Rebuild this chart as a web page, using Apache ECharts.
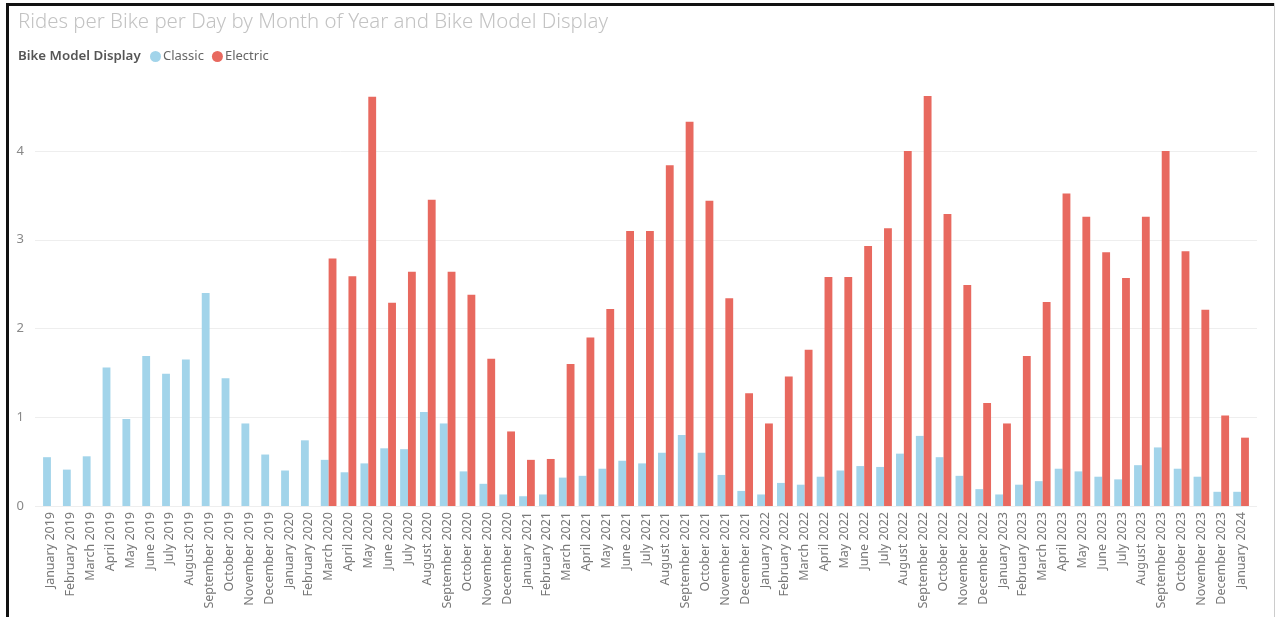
<!DOCTYPE html>
<html>
<head>
<meta charset="utf-8">
<script src="https://cdn.jsdelivr.net/npm/echarts@6/dist/echarts.min.js"></script>
<style>
html,body{margin:0;padding:0;background:#fff;}
#chart{width:1276px;height:617px;}
</style>
</head>
<body>
<div id="chart"></div>
<script>
const months = ["January","February","March","April","May","June","July","August","September","October","November","December"];
const categories = [];
for (let y = 2019; y <= 2024; y++) {
  for (let m = 0; m < 12; m++) {
    if (y === 2024 && m > 0) break;
    categories.push(months[m] + " " + y);
  }
}
const classic = [
  0.55, 0.41, 0.56, 1.56, 0.98, 1.69, 1.49, 1.65, 2.40, 1.44, 0.93, 0.58,
  0.40, 0.74, 0.52, 0.38, 0.48, 0.65, 0.64, 1.06, 0.93, 0.39, 0.25, 0.13,
  0.11, 0.13, 0.32, 0.34, 0.42, 0.51, 0.48, 0.60, 0.80, 0.60, 0.35, 0.17,
  0.13, 0.26, 0.24, 0.33, 0.40, 0.45, 0.44, 0.59, 0.79, 0.55, 0.34, 0.19,
  0.13, 0.24, 0.28, 0.42, 0.39, 0.33, 0.30, 0.46, 0.66, 0.42, 0.33, 0.16,
  0.16
];
const electric = [
  null, null, null, null, null, null, null, null, null, null, null, null,
  null, null, 2.79, 2.59, 4.61, 2.29, 2.64, 3.45, 2.64, 2.38, 1.66, 0.84,
  0.52, 0.53, 1.60, 1.90, 2.22, 3.10, 3.10, 3.84, 4.33, 3.44, 2.34, 1.27,
  0.93, 1.46, 1.76, 2.58, 2.58, 2.93, 3.13, 4.00, 4.62, 3.29, 2.49, 1.16,
  0.93, 1.69, 2.30, 3.52, 3.26, 2.86, 2.57, 3.26, 4.00, 2.87, 2.21, 1.02,
  0.77
];
const yTicks = [0, 1, 2, 3, 4];

const chart = echarts.init(document.getElementById('chart'), null, {renderer: 'canvas'});
const FONT = "'Segoe UI', 'Noto Sans', 'Open Sans', sans-serif";
const option = {
  animation: false,
  backgroundColor: '#fff',
  title: {
    text: 'Rides per Bike per Day by Month of Year and Bike Model Display',
    left: 13, top: 7,
    textStyle: {fontFamily: FONT, fontSize: 20.4, fontWeight: 300, color: '#c3c3c3'}
  },
  legend: {
    left: 145, top: 45,
    icon: 'circle', itemWidth: 11, itemHeight: 11, itemGap: 8,
    textStyle: {fontFamily: FONT, fontSize: 13, color: '#666', padding: [0,0,0,-3]},
    data: ['Classic', 'Electric']
  },
  graphic: [
    {type: 'text', left: 18, top: 50, style: {text: 'Bike Model Display', font: "600 13.3px 'Segoe UI','Noto Sans','Open Sans',sans-serif", fill: '#555'}},
    {type: 'rect', shape: {x: 6, y: 3, width: 1268, height: 3}, style: {fill: '#111'}},
    {type: 'rect', shape: {x: 6, y: 3, width: 3, height: 614}, style: {fill: '#111'}},
    {type: 'rect', shape: {x: 1274, y: 3, width: 1, height: 614}, style: {fill: '#ccc'}}
  ],
  grid: [
    {left: 41, right: 25, top: 80, bottom: 111, containLabel: false},
    {left: 35, right: 19, top: 80, bottom: 111, containLabel: false}
  ],
  xAxis: [
    {
      type: 'category', gridIndex: 0, data: categories,
      axisLine: {show: false}, axisTick: {show: false},
      axisLabel: {interval: 0, rotate: 90, margin: 6, fontFamily: FONT, fontSize: 12.5, color: '#777'}
    },
    {type: 'category', gridIndex: 1, data: categories, show: false}
  ],
  yAxis: [
    {
      type: 'value', gridIndex: 0, min: 0, max: 4.8, interval: 1,
      axisLine: {show: false}, axisTick: {show: false},
      splitLine: {show: false},
      axisLabel: {margin: 17, fontFamily: FONT, fontSize: 13, color: '#888', showMaxLabel: false,
        formatter: v => yTicks.includes(v) ? String(v) : ''}
    },
    {
      type: 'value', gridIndex: 1, min: 0, max: 4.8, interval: 1,
      axisLine: {show: false}, axisTick: {show: false}, axisLabel: {show: false},
      splitLine: {show: true, showMaxLine: false, lineStyle: {color: '#eeeeee', width: 1}}
    }
  ],
  series: [
    {name: 'Classic', type: 'bar', xAxisIndex: 0, yAxisIndex: 0, data: classic,
      barGap: '0%', barCategoryGap: '21%', itemStyle: {color: '#a2d4ea'}},
    {name: 'Electric', type: 'bar', xAxisIndex: 0, yAxisIndex: 0, data: electric,
      barGap: '0%', barCategoryGap: '21%', itemStyle: {color: '#e8695f'}}
  ]
};
chart.setOption(option);
</script>
</body>
</html>
